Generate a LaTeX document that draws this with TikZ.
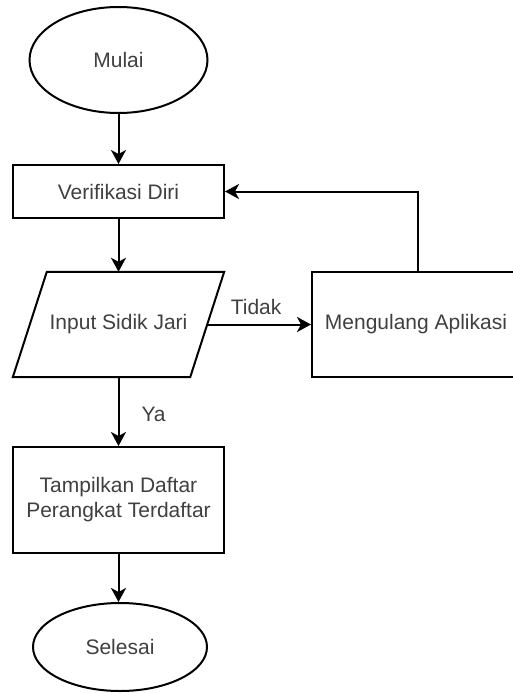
\documentclass[tikz,border=0pt]{standalone}
\usepackage{fontspec}
\setmainfont{Liberation Sans}
\usetikzlibrary{shapes.geometric,arrows.meta,calc}
\begin{document}
\begin{tikzpicture}[x=1pt,y=-1pt,
  every node/.style={font=\fontsize{21}{25}\selectfont, text=black!75},
  line/.style={line width=2pt, draw=black},
  arr/.style={line, -{Stealth[length=14pt,width=15pt,inset=4pt]}},
  terminal/.style={ellipse, line, fill=white, inner sep=0pt},
  process/.style={rectangle, line, fill=white, inner sep=0pt, align=center},
  plain/.style={inner sep=0pt},
  lbl/.style={inner sep=0pt}]
  \useasboundingbox (0,0) rectangle (513,693);
  \clip (0,0) rectangle (513,693);

  % start / end
  \node[terminal, minimum width=178pt, minimum height=106pt] (mulai) at (118.5,60) {Mulai};
  \node[terminal, minimum width=174pt, minimum height=88pt] (selesai) at (120,647) {Selesai};

  % processes
  \node[process, minimum width=211pt, minimum height=53pt] (verif) at (118.5,191.5) {Verifikasi Diri};
  \node[process, minimum width=208pt, minimum height=105pt] (ulang) at (416,324.5) {Mengulang Aplikasi};
  \node[process, minimum width=211pt, minimum height=106pt] (tampil) at (118.5,500) {Tampilkan Daftar\\Perangkat Terdaftar};

  % input (parallelogram)
  \node[plain, minimum width=211pt, minimum height=105pt] (input) at (118.5,324.5) {};
  \draw[line, fill=white] ($(input.north west)+(34,0)$) -- (input.north east)
     -- ($(input.south east)+(-34,0)$) -- (input.south west) -- cycle;
  \node at (input.center) {Input Sidik Jari};
  \coordinate (inputR) at ($(input.east)+(-17,0)$);

  % connectors
  \draw[arr] (mulai.south) -- (verif.north);
  \draw[arr] (verif.south) -- (input.north);
  \draw[arr] (inputR) -- node[lbl, above=9pt, xshift=-3pt] (tidak) {Tidak} (ulang.west);
  \draw[arr] ($(ulang.north)+(2,0)$) |- (verif.east);
  \draw[arr] (input.south) -- node[lbl, right=22pt, yshift=-3pt] (ya) {Ya} (tampil.north);
  \draw[arr] (tampil.south) -- (tampil.south |- selesai.north);
\end{tikzpicture}
\end{document}
